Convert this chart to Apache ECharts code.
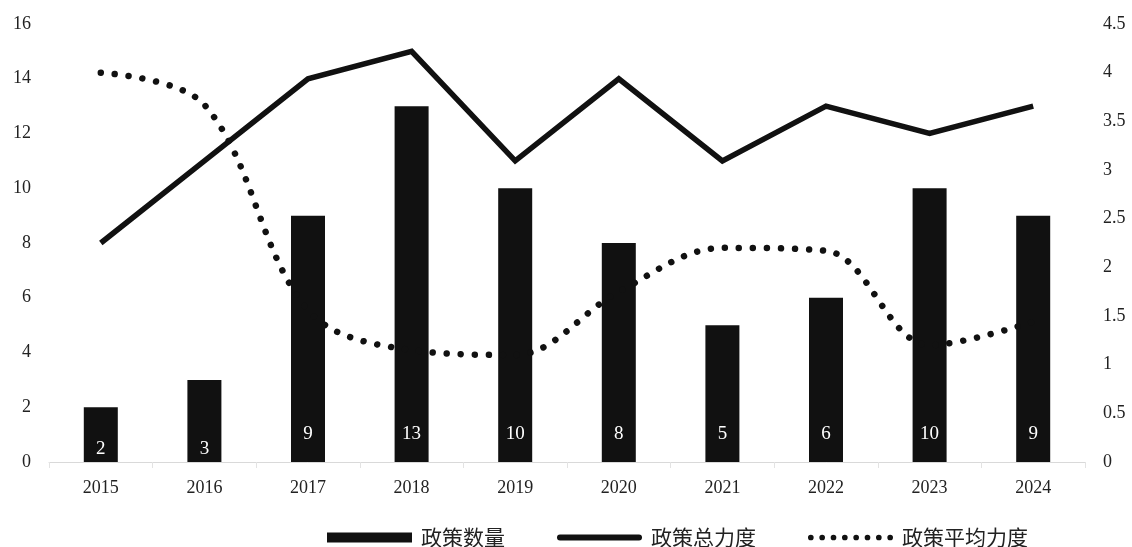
<!DOCTYPE html>
<html><head><meta charset="utf-8">
<script src="https://cdn.jsdelivr.net/npm/echarts@6/dist/echarts.min.js"></script>
<style>html,body{margin:0;padding:0;background:#fff}#c{width:1132px;height:547px}</style>
</head><body><div id="c"></div>
<script>
const categories = ['2015','2016','2017','2018','2019','2020','2021','2022','2023','2024'];
const policyCount = [2,3,9,13,10,8,5,6,10,9];
const policyTotal = [8,11,14,15,11,14,11,13,12,13];
const policyAvg = [4.0,3.67,1.56,1.15,1.1,1.75,2.2,2.17,1.2,1.44];
const leftTicks = {min:0,max:16,interval:2};
const rightTicks = {min:0,max:4.5,interval:0.5};

const serif = '"Liberation Serif","Times New Roman",serif';
const cjk = '"Noto Sans CJK SC",sans-serif';
let dots = '';
for (let i=0;i<8;i++){ const x=i*12; dots += 'M'+x+',3 a3,3 0 1,0 6,0 a3,3 0 1,0 -6,0 Z '; }
const chart = echarts.init(document.getElementById('c'));
chart.setOption({
  animation:false,
  grid:{left:49,right:47,top:24,bottom:85},
  legend:{
    top:527,left:327,itemWidth:85,itemHeight:20,itemGap:52,padding:0,
    textStyle:{fontFamily:cjk,fontSize:21,color:'#222',padding:[0,0,0,4]},
    data:[
      {name:'政策数量',icon:'path://M0,0 L85,0 L85,10 L0,10 Z',itemStyle:{color:'#111'}},
      {name:'政策总力度',icon:'path://M3,0 L82,0 A3,3 0 0,1 82,6 L3,6 A3,3 0 0,1 3,0 Z',itemStyle:{color:'#111'}},
      {name:'政策平均力度',icon:'path://'+dots,itemStyle:{color:'#111'}}
    ]
  },
  xAxis:{type:'category',data:categories,
    axisLine:{lineStyle:{color:'#d9d9d9',width:1}},
    axisTick:{show:true,length:6,lineStyle:{color:'#e3e3e3'}},
    axisLabel:{fontFamily:serif,fontSize:18,color:'#222',margin:17}},
  yAxis:[
    {type:'value',min:leftTicks.min,max:leftTicks.max,interval:leftTicks.interval,
     splitLine:{show:false},axisLine:{show:false},axisTick:{show:false},
     axisLabel:{fontFamily:serif,fontSize:18,color:'#222',margin:18}},
    {type:'value',min:rightTicks.min,max:rightTicks.max,interval:rightTicks.interval,
     splitLine:{show:false},axisLine:{show:false},axisTick:{show:false},
     axisLabel:{fontFamily:serif,fontSize:18,color:'#222',margin:18}}
  ],
  series:[
    {name:'政策数量',type:'bar',barWidth:34,itemStyle:{color:'#111'},
     data:policyCount.map(v=>({value:v,label:{distance:v<4?3:18}})),
     label:{show:true,position:'insideBottom',color:'#fff',fontFamily:serif,fontSize:19}},
    {name:'政策总力度',type:'line',yAxisIndex:0,data:policyTotal,symbol:'none',
     lineStyle:{color:'#111',width:5.5,join:'miter'},itemStyle:{color:'#111'}},
    {name:'政策平均力度',type:'line',yAxisIndex:1,data:policyAvg,symbol:'none',smooth:0.35,
     lineStyle:{color:'#111',width:6.5,type:[0.01,14],cap:'round'},itemStyle:{color:'#111'}}
  ]
});
</script></body></html>
